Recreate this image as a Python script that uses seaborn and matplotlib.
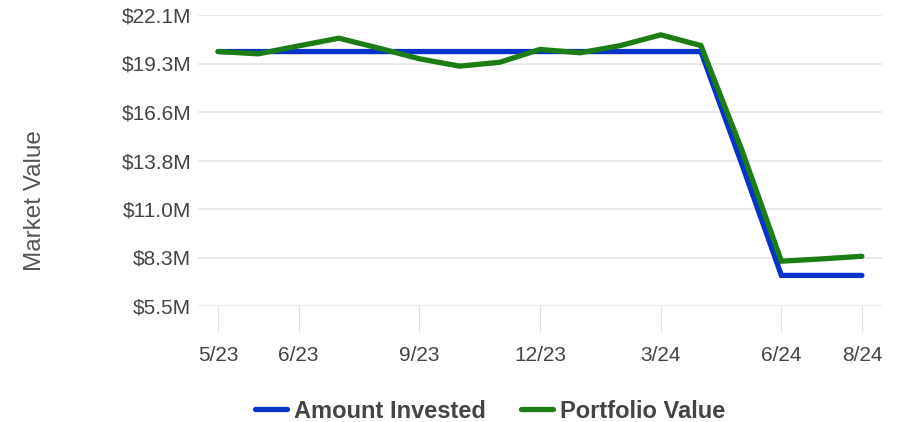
import numpy as np
import pandas as pd
import seaborn as sns
import matplotlib.pyplot as plt
from matplotlib.ticker import FuncFormatter

# Month-end observations (index along the x axis), values in $M
period = list(range(17))
amount_invested = [20.0, 20.0, 20.0, 20.0, 20.0, 20.0, 20.0, 20.0, 20.0,
                   20.0, 20.0, 20.0, 20.0, 13.7, 7.26, 7.26, 7.26]
portfolio_value = [20.0, 19.87, 20.32, 20.76, 20.19, 19.59, 19.17, 19.39, 20.12,
                   19.93, 20.34, 20.95, 20.34, 14.5, 8.07, 8.2, 8.35]

tick_pos = [0, 2, 5, 8, 11, 14, 16]
tick_labels = ['5/23', '6/23', '9/23', '12/23', '3/24', '6/24', '8/24']
y_ticks = [5.52, 8.28, 11.04, 13.8, 16.56, 19.32, 22.08]

df = pd.DataFrame({
    'period': period * 2,
    'value': amount_invested + portfolio_value,
    'series': ['Amount Invested'] * len(period) + ['Portfolio Value'] * len(period),
})

sns.set_theme(style='white')
plt.rcParams['font.family'] = ['Liberation Sans', 'DejaVu Sans']

fig = plt.figure(figsize=(9.01, 4.22), dpi=100)
ax = fig.add_axes([198 / 901, 1 - 306 / 422, (882 - 198) / 901, (306 - 15) / 422])

sns.lineplot(data=df, x='period', y='value', hue='series',
             palette={'Amount Invested': '#0833c8', 'Portfolio Value': '#1b7d14'},
             linewidth=3.8, ax=ax, legend=True)
for line in ax.lines:
    line.set_solid_capstyle('round')
    line.set_solid_joinstyle('miter')

ax.set_xlim(-0.5, 16.5)
ax.set_ylim(5.52, 22.08)
ax.set_yticks(y_ticks)
ax.yaxis.set_major_formatter(FuncFormatter(lambda v, p: f'${v:.1f}M'))
ax.set_xticks(tick_pos)
ax.set_xticklabels(tick_labels)

ax.grid(axis='y', color='#e4e4e4', linewidth=1.1)
ax.set_axisbelow(True)
for s in ax.spines.values():
    s.set_visible(False)

ax.tick_params(axis='y', length=0, pad=5, labelsize=15, labelcolor='#444444')
ax.tick_params(axis='x', direction='out', length=19, width=0.8, color='#e0e0e0',
               pad=10, labelsize=15, labelcolor='#444444', bottom=True)

ax.set_xlabel('')
ax.set_ylabel('Market Value', fontsize=17.5, color='#555555')
ax.yaxis.set_label_coords(-0.222, 0.364)

handles, labels = ax.get_legend_handles_labels()
ax.get_legend().remove()
leg = fig.legend(handles, labels, loc='center', bbox_to_anchor=(490 / 901, 11 / 422),
                 ncol=2, frameon=False, handlelength=1.35, columnspacing=1.5,
                 handletextpad=0.3, prop={'weight': 'bold', 'size': 17})
for t in leg.get_texts():
    t.set_color('#444444')

fig.savefig('out.png', dpi=100)
